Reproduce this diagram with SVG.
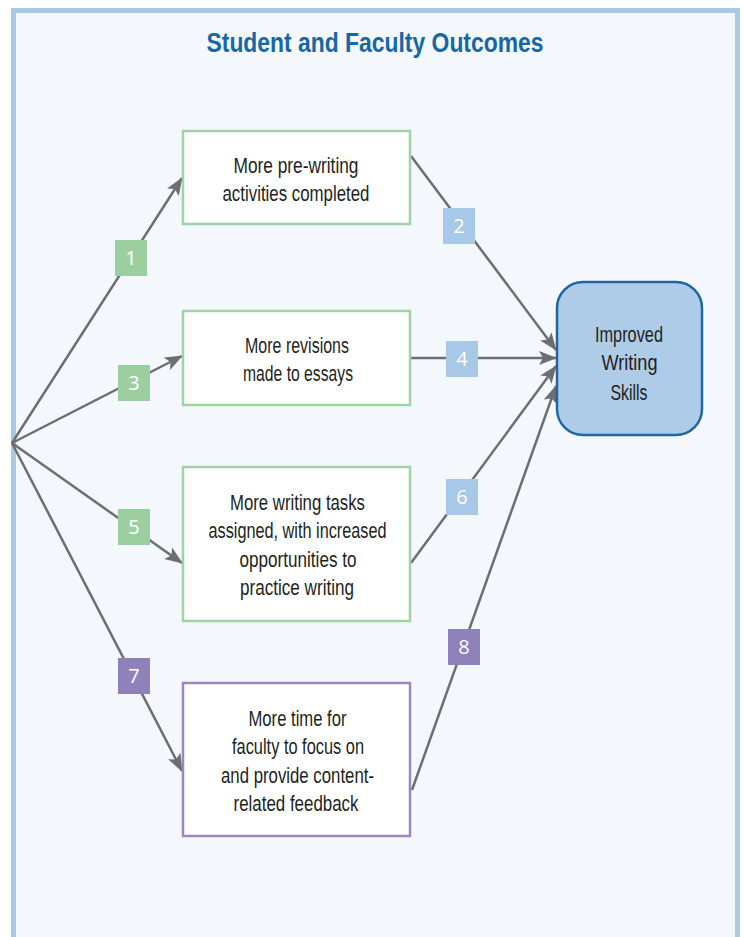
<svg xmlns="http://www.w3.org/2000/svg" width="744" height="937" viewBox="0 0 744 937">
<style>
.frame{fill:#f4f8fc;stroke:#a9c9e6;stroke-width:5}
.title{font-family:"Liberation Sans",sans-serif;font-weight:bold;font-size:28.5px;fill:#1767a6;text-anchor:middle}
.box{fill:#ffffff;stroke-width:2.5}
.g{stroke:#9fd3a3}
.p{stroke:#9b87c0}
.t{font-family:"Liberation Sans",sans-serif;font-size:22px;fill:#231f20;text-anchor:middle}
.goal{fill:#aecbe8;stroke:#1d67a3;stroke-width:2.5}
.ln{stroke:#6d6e71;stroke-width:2.5;fill:none}
.arr{marker-end:url(#ah)}
.lab{font-family:"Open Sans","Liberation Sans",sans-serif;font-size:20px;fill:#ffffff;text-anchor:middle}
.lg{fill:#9ccf9f}
.lb{fill:#a7c8e6}
.lp{fill:#8f81b9}
</style>
<defs>
<marker id="ah" markerWidth="20" markerHeight="14" refX="17" refY="7" orient="auto" markerUnits="userSpaceOnUse">
<path d="M0,0 L18,7 L0,14 L4,7 Z" fill="#6d6e71"/>
</marker>
</defs>
<rect class="frame" x="13.5" y="10.5" width="724" height="940"/>
<text class="title" x="375" y="52" textLength="337" lengthAdjust="spacingAndGlyphs">Student and Faculty Outcomes</text>

<g id="connectors">
<line class="ln arr" x1="12" y1="443" x2="182" y2="178"/>
<line class="ln arr" x1="12" y1="443" x2="182" y2="356"/>
<line class="ln arr" x1="12" y1="443" x2="182" y2="563"/>
<line class="ln arr" x1="12" y1="443" x2="182" y2="771"/>
<line class="ln arr" x1="411" y1="156" x2="556" y2="350"/>
<line class="ln arr" x1="411" y1="358" x2="556" y2="358"/>
<line class="ln arr" x1="411" y1="563" x2="556" y2="366"/>
<line class="ln arr" x1="412" y1="790" x2="556" y2="386"/>
</g>

<g id="label1"><rect class="lg" x="115" y="240" width="32" height="36"/><text class="lab" x="131" y="265">1</text></g>
<g id="label3"><rect class="lg" x="118" y="365" width="32" height="36"/><text class="lab" x="134" y="390">3</text></g>
<g id="label5"><rect class="lg" x="118" y="509" width="32" height="36"/><text class="lab" x="134" y="534">5</text></g>
<g id="label7"><rect class="lp" x="118" y="658" width="32" height="36"/><text class="lab" x="134" y="683">7</text></g>
<g id="label2"><rect class="lb" x="443" y="208" width="32" height="36"/><text class="lab" x="459" y="233">2</text></g>
<g id="label4"><rect class="lb" x="446" y="341" width="32" height="36"/><text class="lab" x="462" y="366">4</text></g>
<g id="label6"><rect class="lb" x="446" y="479" width="32" height="36"/><text class="lab" x="462" y="504">6</text></g>
<g id="label8"><rect class="lp" x="448" y="629" width="32" height="36"/><text class="lab" x="464" y="654">8</text></g>

<g id="box1">
<rect class="box g" x="183" y="131" width="227" height="93"/>
<text class="t" x="296" y="173" textLength="125" lengthAdjust="spacingAndGlyphs">More pre-writing</text>
<text class="t" x="296" y="201" textLength="147" lengthAdjust="spacingAndGlyphs">activities completed</text>
</g>
<g id="box2">
<rect class="box g" x="183" y="311" width="227" height="94"/>
<text class="t" x="297" y="353" textLength="104" lengthAdjust="spacingAndGlyphs">More revisions</text>
<text class="t" x="298" y="381" textLength="110" lengthAdjust="spacingAndGlyphs">made to essays</text>
</g>
<g id="box3">
<rect class="box g" x="183" y="467" width="227" height="154"/>
<text class="t" x="297.5" y="510" textLength="135" lengthAdjust="spacingAndGlyphs">More writing tasks</text>
<text class="t" x="297.5" y="538" textLength="178" lengthAdjust="spacingAndGlyphs">assigned, with increased</text>
<text class="t" x="298" y="566.5" textLength="117" lengthAdjust="spacingAndGlyphs">opportunities to</text>
<text class="t" x="297" y="595" textLength="114" lengthAdjust="spacingAndGlyphs">practice writing</text>
</g>
<g id="box4">
<rect class="box p" x="183" y="683" width="227" height="153"/>
<text class="t" x="297.5" y="726" textLength="98" lengthAdjust="spacingAndGlyphs">More time for</text>
<text class="t" x="298" y="754" textLength="132" lengthAdjust="spacingAndGlyphs">faculty to focus on</text>
<text class="t" x="297.5" y="782.5" textLength="153" lengthAdjust="spacingAndGlyphs">and provide content-</text>
<text class="t" x="296" y="811" textLength="125" lengthAdjust="spacingAndGlyphs">related feedback</text>
</g>
<g id="goal">
<rect class="goal" x="557" y="282" width="145" height="153" rx="26"/>
<text class="t" x="629" y="341.5" textLength="68" lengthAdjust="spacingAndGlyphs">Improved</text>
<text class="t" x="629.5" y="370" textLength="56" lengthAdjust="spacingAndGlyphs">Writing</text>
<text class="t" x="629" y="400" textLength="37" lengthAdjust="spacingAndGlyphs">Skills</text>
</g>
</svg>
